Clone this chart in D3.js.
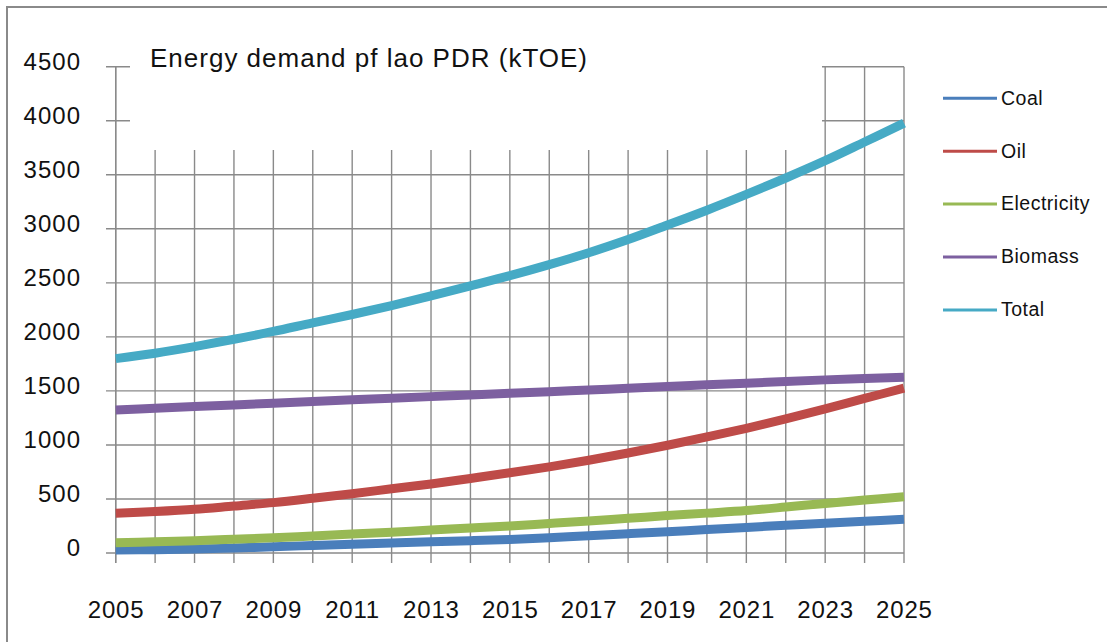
<!DOCTYPE html>
<html>
<head>
<meta charset="utf-8">
<script src="https://cdn.jsdelivr.net/npm/d3@7/dist/d3.min.js"></script>
<style>
html,body{margin:0;padding:0;background:#fff;}
svg{display:block;font-family:"Liberation Sans",Arial,sans-serif;}
</style>
</head>
<body>
<svg id="chart" width="1107" height="642"></svg>
<script>
const years = [2005,2006,2007,2008,2009,2010,2011,2012,2013,2014,2015,2016,2017,2018,2019,2020,2021,2022,2023,2024,2025];
const seriesNames = ["Coal","Oil","Electricity","Biomass","Total"];
const coal = [28,31,36,46,57,70,82,92,103,114,125,142,160,178,197,217,237,256,276,294,312];
const oil = [367,383,404,435,466,506,549,594,639,690,742,797,858,925,997,1074,1154,1241,1333,1430,1525];
const electricity = [95,104,114,127,141,158,175,193,212,231,250,273,296,321,346,369,393,425,459,490,521];
const biomass = [1324,1340,1355,1370,1386,1402,1417,1432,1447,1463,1478,1493,1509,1524,1540,1556,1571,1587,1602,1615,1627];
const total = [1799,1849,1910,1978,2050,2130,2207,2290,2380,2472,2566,2668,2778,2900,3035,3172,3318,3470,3630,3803,3978];
const colors = ["#4a7ebb","#be4b48","#98b954","#7d60a0","#46aac5"];
const yTicks = [0,500,1000,1500,2000,2500,3000,3500,4000,4500];
const xTickLabels = [2005,2007,2009,2011,2013,2015,2017,2019,2021,2023,2025];
const title = "Energy demand pf lao PDR (kTOE)";

const data = [coal, oil, electricity, biomass, total];

const svg = d3.select("#chart");
const x = d3.scaleLinear().domain([2005,2025]).range([115.7,904]);
const y = d3.scaleLinear().domain([0,4500]).range([553,66.7]);
const gridColor = "#8a8a8a";

// outer border
svg.append("rect").attr("x",7).attr("y",7).attr("width",1200).attr("height",700)
  .attr("fill","none").attr("stroke","#8a8a8a").attr("stroke-width",2);

// horizontal grid (with outside tick)
svg.append("g").selectAll("line").data(yTicks).join("line")
  .attr("x1",106).attr("x2",x(2025))
  .attr("y1",d=>y(d)).attr("y2",d=>y(d))
  .attr("stroke",gridColor).attr("stroke-width",1.4);

// vertical grid (with outside tick)
svg.append("g").selectAll("line").data(years).join("line")
  .attr("x1",d=>x(d)).attr("x2",d=>x(d))
  .attr("y1",y(4500)).attr("y2",563)
  .attr("stroke",gridColor).attr("stroke-width",1.4);

// title box masking the upper grid
svg.append("rect").attr("x",130).attr("y",20).attr("width",692).attr("height",130).attr("fill","#fff");

// y axis line (on top of mask)
svg.append("line").attr("x1",x(2005)).attr("x2",x(2005)).attr("y1",y(4500)).attr("y2",563)
  .attr("stroke",gridColor).attr("stroke-width",1.4);

// y labels
svg.append("g").selectAll("text").data(yTicks).join("text")
  .attr("x",81).attr("y",d=>y(d)+3)
  .attr("text-anchor","end").attr("font-size",24).attr("letter-spacing",1).attr("fill","#111")
  .text(d=>d);

// x labels
svg.append("g").selectAll("text").data(xTickLabels).join("text")
  .attr("x",d=>x(d)+0.4).attr("y",618)
  .attr("text-anchor","middle").attr("font-size",24).attr("letter-spacing",0.8).attr("fill","#111")
  .text(d=>d);

// title
svg.append("text").attr("x",150).attr("y",66.5).attr("font-size",26).attr("letter-spacing",1).attr("fill","#111").text(title);

// series lines
const line = d3.line().x((d,i)=>x(years[i])).y(d=>y(d)).curve(d3.curveCatmullRom.alpha(0.5));
svg.append("g").selectAll("path").data(data).join("path")
  .attr("d",d=>line(d)).attr("fill","none")
  .attr("stroke",(d,i)=>colors[i]).attr("stroke-width",9).attr("stroke-linecap","butt");

// legend
const lg = svg.append("g");
seriesNames.forEach((n,i)=>{
  const ly = 98.3 + i*52.9;
  lg.append("line").attr("x1",943).attr("x2",997).attr("y1",ly).attr("y2",ly)
    .attr("stroke",colors[i]).attr("stroke-width",3);
  lg.append("text").attr("x",1001).attr("y",ly+6.3).attr("font-size",19.5).attr("letter-spacing",0.5).attr("fill","#111").text(n);
});
</script>
</body>
</html>
